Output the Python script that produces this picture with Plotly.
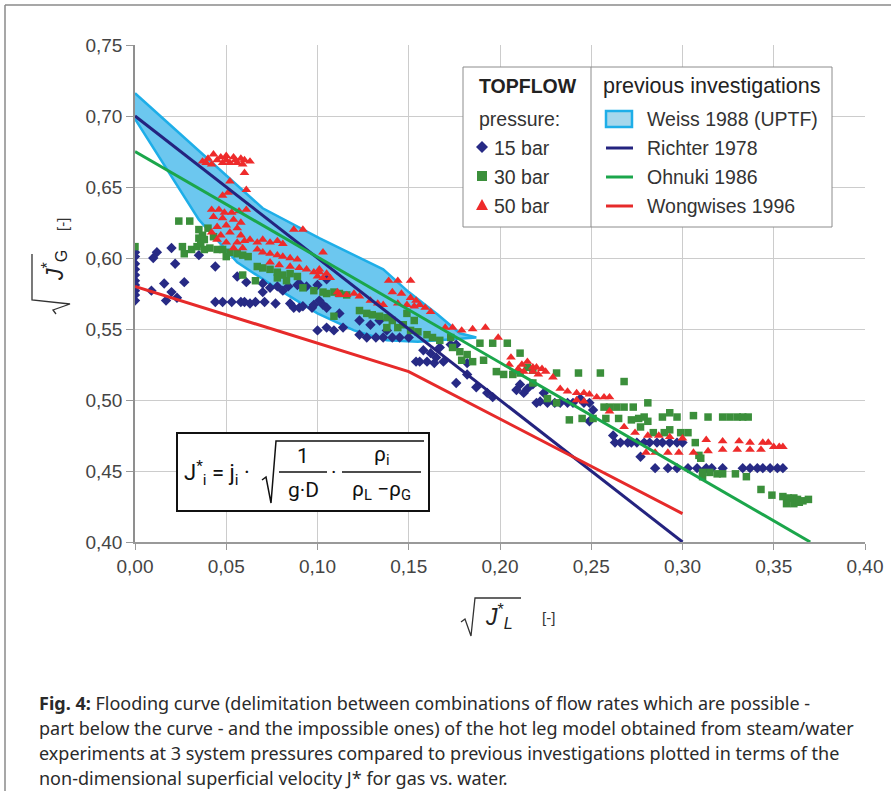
import plotly.graph_objects as go

# ---------------- data ----------------
# TOPFLOW 15 bar (diamonds)
p15_x = [0, 0, 0, 0, 0, 0, 0, 0, 0, 0,
         0.010, 0.012, 0.020, 0.022, 0.035, 0.044, 0.016, 0.027, 0.020, 0.017, 0.023, 0.009,
         0.044, 0.048, 0.053, 0.058, 0.060, 0.063, 0.066, 0.071, 0.077, 0.085, 0.087,
         0.056, 0.061, 0.070, 0.070, 0.074, 0.078, 0.081, 0.084, 0.089,
         0.090, 0.097, 0.092, 0.098, 0.103, 0.094, 0.100, 0.105, 0.090,
         0.100, 0.105, 0.109, 0.114,
         0.123, 0.127, 0.132, 0.136, 0.141, 0.145, 0.150,
         0.101, 0.105, 0.112, 0.123, 0.129, 0.134, 0.138,
         0.154, 0.156, 0.160, 0.164, 0.162, 0.165, 0.169, 0.158, 0.167, 0.173, 0.176,
         0.176, 0.182, 0.182, 0.187, 0.193, 0.196,
         0.209, 0.211, 0.215, 0.213, 0.218, 0.224, 0.222,
         0.220, 0.226, 0.230, 0.233, 0.237, 0.240, 0.246, 0.249,
         0.244, 0.251, 0.249, 0.262,
         0.263, 0.266, 0.270, 0.272, 0.275, 0.279, 0.282, 0.286, 0.289, 0.293, 0.297, 0.300,
         0.277,
         0.285, 0.292, 0.297, 0.303, 0.308, 0.313, 0.316, 0.322, 0.333, 0.337, 0.341, 0.344, 0.348, 0.352, 0.355]
p15_y = [0.604, 0.601, 0.596, 0.592, 0.588, 0.584, 0.581, 0.577, 0.574, 0.570,
         0.600, 0.604, 0.607, 0.596, 0.602, 0.594, 0.582, 0.583, 0.576, 0.570, 0.572, 0.577,
         0.569, 0.569, 0.569, 0.569, 0.569, 0.568, 0.569, 0.569, 0.568, 0.568, 0.565,
         0.587, 0.583, 0.582, 0.576, 0.579, 0.580, 0.577, 0.580, 0.581,
         0.565, 0.565, 0.566, 0.567, 0.567, 0.580, 0.581, 0.585, 0.582,
         0.549, 0.551, 0.549, 0.551,
         0.546, 0.544, 0.544, 0.544, 0.544, 0.544, 0.544,
         0.570, 0.565, 0.561, 0.556, 0.553, 0.556, 0.549,
         0.527, 0.527, 0.527, 0.526, 0.533, 0.530, 0.527, 0.535, 0.537, 0.539, 0.539,
         0.512, 0.518, 0.526, 0.509, 0.505, 0.502,
         0.507, 0.511, 0.508, 0.505, 0.511, 0.505, 0.499,
         0.498, 0.498, 0.498, 0.498, 0.498, 0.498, 0.498, 0.498,
         0.501, 0.493, 0.485, 0.475,
         0.470, 0.470, 0.470, 0.470, 0.470, 0.470, 0.470, 0.470, 0.470, 0.470, 0.470, 0.470,
         0.460,
         0.452, 0.452, 0.452, 0.452, 0.452, 0.452, 0.452, 0.452, 0.452, 0.452, 0.452, 0.452, 0.452, 0.452, 0.452]

# TOPFLOW 30 bar (squares)
p30_x = [0, 0.024, 0.030,
         0.035, 0.037, 0.040, 0.043, 0.035, 0.038,
         0.026, 0.027, 0.031, 0.034, 0.036, 0.038, 0.041, 0.045, 0.048, 0.052, 0.056, 0.059, 0.050, 0.062,
         0.059, 0.066,
         0.067, 0.070, 0.074, 0.078, 0.081, 0.085, 0.078, 0.083, 0.089, 0.092, 0.098, 0.103,
         0.105, 0.109, 0.112, 0.116,
         0.109,
         0.123, 0.127, 0.130, 0.134, 0.138, 0.141,
         0.138, 0.144, 0.147, 0.151, 0.155,
         0.149, 0.153,
         0.160, 0.163, 0.167, 0.173, 0.174, 0.178, 0.182, 0.179, 0.185, 0.191, 0.189, 0.196, 0.204, 0.211,
         0.198, 0.202, 0.207, 0.211, 0.215, 0.218,
         0.231, 0.243, 0.255, 0.268, 0.281,
         0.218, 0.226, 0.231, 0.257, 0.260, 0.264, 0.268, 0.273,
         0.238, 0.245, 0.251, 0.258, 0.265, 0.272, 0.276, 0.279, 0.281, 0.277,
         0.289, 0.293, 0.297, 0.306, 0.314, 0.322, 0.326, 0.330, 0.333, 0.336,
         0.284, 0.290, 0.293, 0.299, 0.303,
         0.307, 0.309, 0.310,
         0.311, 0.315, 0.311, 0.319, 0.322, 0.329, 0.335,
         0.343, 0.349, 0.355, 0.358, 0.361, 0.357, 0.361, 0.363, 0.366, 0.369, 0.364]
p30_y = [0.608, 0.626, 0.626,
         0.620, 0.616, 0.621, 0.615, 0.614, 0.613,
         0.608, 0.603, 0.606, 0.608, 0.610, 0.606, 0.607, 0.606, 0.606, 0.604, 0.603, 0.602, 0.601, 0.601,
         0.588, 0.584,
         0.594, 0.593, 0.592, 0.590, 0.588, 0.589, 0.586, 0.584, 0.587, 0.579, 0.577, 0.576,
         0.575, 0.576, 0.575, 0.574,
         0.559,
         0.563, 0.561, 0.560, 0.559, 0.558, 0.556,
         0.551, 0.551, 0.553, 0.549, 0.548,
         0.561, 0.556,
         0.546, 0.544, 0.542, 0.544, 0.537, 0.534, 0.532, 0.528, 0.527, 0.528, 0.540, 0.540, 0.540, 0.533,
         0.520, 0.518, 0.518, 0.519, 0.523, 0.521,
         0.519, 0.519, 0.519, 0.513, 0.498,
         0.512, 0.501, 0.498, 0.495, 0.495, 0.495, 0.495, 0.495,
         0.486, 0.487, 0.487, 0.487, 0.487, 0.486, 0.487, 0.488, 0.485, 0.481,
         0.488, 0.491, 0.488, 0.489, 0.488, 0.488, 0.488, 0.488, 0.488, 0.488,
         0.477, 0.477, 0.479, 0.477, 0.477,
         0.470, 0.461, 0.459,
         0.449, 0.449, 0.446, 0.448, 0.448, 0.448, 0.446,
         0.437, 0.433, 0.432, 0.431, 0.431, 0.427, 0.427, 0.430, 0.429, 0.430, 0.428]

# TOPFLOW 50 bar (triangles)
p50_x = [0.037, 0.040, 0.043, 0.047, 0.050, 0.054, 0.058, 0.060, 0.042, 0.048, 0.052, 0.056, 0.059, 0.045, 0.050, 0.055, 0.063, 0.039,
         0.060, 0.052, 0.061, 0.051, 0.048, 0.061,
         0.042, 0.046, 0.049, 0.053, 0.057, 0.043, 0.048, 0.054, 0.058, 0.045, 0.050, 0.056, 0.042, 0.047, 0.052, 0.058, 0.045, 0.050, 0.056, 0.060, 0.054, 0.059,
         0.063, 0.067, 0.070, 0.074, 0.078, 0.081, 0.067, 0.070, 0.074, 0.078, 0.081, 0.085, 0.089, 0.074, 0.079, 0.085, 0.090, 0.094, 0.098, 0.101, 0.105, 0.100, 0.103,
         0.087, 0.092, 0.103,
         0.107, 0.111, 0.112, 0.116, 0.120, 0.123, 0.129, 0.133, 0.136, 0.101,
         0.139, 0.144, 0.151,
         0.141, 0.146, 0.151, 0.154, 0.156, 0.159, 0.162, 0.153, 0.149, 0.144,
         0.170, 0.174, 0.179, 0.185, 0.192,
         0.199, 0.206, 0.212, 0.205, 0.210, 0.215, 0.213,
         0.218, 0.220, 0.223, 0.225, 0.218, 0.221, 0.229,
         0.233, 0.237, 0.242, 0.246, 0.249, 0.253, 0.257, 0.260, 0.242, 0.246, 0.260,
         0.268, 0.274, 0.281, 0.287, 0.293, 0.300,
         0.280, 0.285, 0.292, 0.298, 0.306, 0.314, 0.322, 0.330, 0.337, 0.343,
         0.313, 0.322, 0.331, 0.337, 0.344, 0.347, 0.350, 0.353, 0.355]
p50_y = [0.668, 0.670, 0.673, 0.671, 0.672, 0.671, 0.670, 0.669, 0.666, 0.667, 0.667, 0.667, 0.666, 0.669, 0.669, 0.669, 0.668, 0.667,
         0.660, 0.654, 0.648, 0.646, 0.644, 0.634,
         0.634, 0.634, 0.632, 0.632, 0.633, 0.629, 0.628, 0.627, 0.625, 0.622, 0.623, 0.621, 0.618, 0.616, 0.618, 0.616, 0.613, 0.611, 0.611, 0.612, 0.607, 0.607,
         0.613, 0.611, 0.613, 0.611, 0.612, 0.610, 0.606, 0.604, 0.603, 0.602, 0.601, 0.600, 0.599, 0.597, 0.595, 0.594, 0.593, 0.592, 0.590, 0.590, 0.589, 0.587, 0.586,
         0.620, 0.620, 0.604,
         0.586, 0.576, 0.574, 0.574, 0.575, 0.573, 0.570, 0.568, 0.567, 0.592,
         0.584, 0.584, 0.584,
         0.576, 0.575, 0.572, 0.570, 0.567, 0.565, 0.562, 0.566, 0.567, 0.568,
         0.551, 0.551, 0.549, 0.550, 0.551,
         0.544, 0.530, 0.525, 0.525, 0.522, 0.527, 0.520,
         0.523, 0.523, 0.522, 0.520, 0.520, 0.518, 0.516,
         0.508, 0.506, 0.505, 0.505, 0.504, 0.502, 0.502, 0.502, 0.500, 0.499, 0.492,
         0.481, 0.477, 0.475, 0.475, 0.474, 0.473,
         0.463, 0.463, 0.463, 0.463, 0.463, 0.464, 0.465, 0.465, 0.465, 0.465,
         0.472, 0.471, 0.471, 0.470, 0.470, 0.470, 0.467, 0.467, 0.467]

# previous investigations
weiss_upper_x = [0.0, 0.030, 0.070, 0.101, 0.136, 0.150, 0.166, 0.178, 0.187]
weiss_upper_y = [0.716, 0.681, 0.635, 0.614, 0.592, 0.576, 0.560, 0.547, 0.544]
weiss_lower_x = [0.0, 0.035, 0.056, 0.076, 0.100, 0.120, 0.138, 0.155, 0.187]
weiss_lower_y = [0.698, 0.627, 0.597, 0.580, 0.561, 0.549, 0.542, 0.541, 0.544]
richter_x = [0.0, 0.30]
richter_y = [0.70, 0.40]
ohnuki_x = [0.0, 0.37]
ohnuki_y = [0.675, 0.40]
wongwises_x = [0.0, 0.15, 0.30]
wongwises_y = [0.58, 0.52, 0.42]

x_ticks = [0.00, 0.05, 0.10, 0.15, 0.20, 0.25, 0.30, 0.35, 0.40]
y_ticks = [0.40, 0.45, 0.50, 0.55, 0.60, 0.65, 0.70, 0.75]

caption_lines = [
    "<b>Fig. 4:</b> Flooding curve (delimitation between combinations of flow rates which are possible -",
    "part below the curve - and the impossible ones) of the hot leg model obtained from steam/water",
    "experiments at 3 system pressures compared to previous investigations plotted in terms of the",
    "non-dimensional superficial velocity J* for gas vs. water.",
]

# ---------------- styling ----------------
C_BLUE = "#272a85"
C_GREEN = "#3b8f3b"
C_RED = "#ee2b2b"
C_RICHTER = "#24237f"
C_OHNUKI = "#1ba64b"
C_WONG = "#e62a2a"
C_BAND_LINE = "#1eaee8"
C_BAND_FILL = "#6cc7ef"
FONT = "Liberation Sans, Arial, sans-serif"
TXT = "#333333"

L, T, W, H = 135, 45, 730, 497
FIG_W, FIG_H = 891, 791


def X(px):
    return (px - L) / W


def Y(py):
    return (T + H - py) / H


def path(points, close=False):
    s = "M " + " L ".join(f"{X(a):.5f},{Y(b):.5f}" for a, b in points)
    return s + (" Z" if close else "")


fig = go.Figure()

# Weiss band
fig.add_trace(go.Scatter(
    x=weiss_upper_x + weiss_lower_x[::-1],
    y=weiss_upper_y + weiss_lower_y[::-1],
    mode="lines", fill="toself", fillcolor=C_BAND_FILL,
    line=dict(color=C_BAND_LINE, width=2.5), hoverinfo="skip", showlegend=False))

# data points
fig.add_trace(go.Scatter(x=p15_x, y=p15_y, mode="markers",
                         marker=dict(symbol="diamond", size=8, color=C_BLUE), showlegend=False))
fig.add_trace(go.Scatter(x=p30_x, y=p30_y, mode="markers",
                         marker=dict(symbol="square", size=7.5, color=C_GREEN), showlegend=False))
fig.add_trace(go.Scatter(x=p50_x, y=p50_y, mode="markers",
                         marker=dict(symbol="triangle-up", size=8.5, color=C_RED), showlegend=False))

# correlation lines
fig.add_trace(go.Scatter(x=richter_x, y=richter_y, mode="lines",
                         line=dict(color=C_RICHTER, width=3), showlegend=False))
fig.add_trace(go.Scatter(x=ohnuki_x, y=ohnuki_y, mode="lines",
                         line=dict(color=C_OHNUKI, width=3), showlegend=False))
fig.add_trace(go.Scatter(x=wongwises_x, y=wongwises_y, mode="lines",
                         line=dict(color=C_WONG, width=3), showlegend=False))

shapes = []
ann = []

# outer frame of the figure panel
shapes.append(dict(type="line", xref="paper", yref="paper", x0=X(5), y0=Y(5), x1=X(891), y1=Y(5),
                   line=dict(color="#8a8a8a", width=1.5)))
shapes.append(dict(type="line", xref="paper", yref="paper", x0=X(5), y0=Y(5), x1=X(5), y1=Y(791),
                   line=dict(color="#8a8a8a", width=1.5)))

# ---- legend box ----
shapes.append(dict(type="rect", xref="paper", yref="paper", x0=X(463), x1=X(832), y0=Y(227), y1=Y(67),
                   line=dict(color="#8c8c8c", width=1), fillcolor="white", layer="above"))
shapes.append(dict(type="line", xref="paper", yref="paper", x0=X(591), x1=X(591), y0=Y(227), y1=Y(67),
                   line=dict(color="#8c8c8c", width=1), layer="above"))
# legend symbols
shapes.append(dict(type="path", xref="paper", yref="paper", layer="above",
                   path=path([(482, 141), (488, 147), (482, 153), (476, 147)], True),
                   fillcolor=C_BLUE, line=dict(width=0)))
shapes.append(dict(type="rect", xref="paper", yref="paper", layer="above",
                   x0=X(477), x1=X(487), y0=Y(181), y1=Y(171), fillcolor=C_GREEN, line=dict(width=0)))
shapes.append(dict(type="path", xref="paper", yref="paper", layer="above",
                   path=path([(476, 210), (488, 210), (482, 199)], True),
                   fillcolor=C_RED, line=dict(width=0)))
shapes.append(dict(type="rect", xref="paper", yref="paper", layer="above",
                   x0=X(606), x1=X(632), y0=Y(127), y1=Y(111), fillcolor="#a6d7ec",
                   line=dict(color=C_BAND_LINE, width=2.5)))
for yy, col in [(148, C_RICHTER), (177, C_OHNUKI), (206, C_WONG)]:
    shapes.append(dict(type="line", xref="paper", yref="paper", layer="above",
                       x0=X(606), x1=X(633), y0=Y(yy), y1=Y(yy), line=dict(color=col, width=3)))


def text(px, py, s, size=18, xanchor="left", color=TXT, angle=0, family=FONT):
    ann.append(dict(x=X(px), y=Y(py), xref="paper", yref="paper", text=s, showarrow=False,
                    xanchor=xanchor, yanchor="middle", textangle=angle,
                    font=dict(family=family, size=size, color=color)))


LG = 19.5
text(477, 86, "<b>TOPFLOW</b>", LG, color="#222")
text(601, 86, "previous investigations", 21.5, color="#222")
text(477, 119, "pressure:", LG)
text(492, 148, "15 bar", LG)
text(492, 177, "30 bar", LG)
text(492, 206, "50 bar", LG)
text(645, 119, "Weiss 1988 (UPTF)", LG)
text(645, 148, "Richter 1978", LG)
text(645, 177, "Ohnuki 1986", LG)
text(645, 206, "Wongwises 1996", LG)

# ---- formula box ----
shapes.append(dict(type="rect", xref="paper", yref="paper", x0=X(177), x1=X(429), y0=Y(511), y1=Y(433),
                   line=dict(color="#111", width=2), fillcolor="white", layer="above"))
shapes.append(dict(type="path", xref="paper", yref="paper", layer="above",
                   path=path([(262, 480), (266, 477), (271, 503), (276, 441), (424, 441)]),
                   line=dict(color="#111", width=1.5)))
shapes.append(dict(type="line", xref="paper", yref="paper", layer="above",
                   x0=X(279), x1=X(327), y0=Y(472), y1=Y(472), line=dict(color="#111", width=1.5)))
shapes.append(dict(type="line", xref="paper", yref="paper", layer="above",
                   x0=X(342), x1=X(421), y0=Y(472), y1=Y(472), line=dict(color="#111", width=1.5)))
FF = "Roboto, Arial, sans-serif"
text(182, 473, "J<sup>*</sup><sub>i</sub> = j<sub>i</sub> ·", 22, color="#111", family=FF)
text(303, 456, "1", 21, "center", "#111", family=FF)
text(303, 490, "g·D", 21, "center", "#111", family=FF)
text(334, 472, "·", 21, "center", "#111", family=FF)
text(381, 455, "ρ<sub>i</sub>", 21, "center", "#111", family=FF)
text(381, 490, "ρ<sub>L</sub> −ρ<sub>G</sub>", 21, "center", "#111", family=FF)

# ---- axis titles ----
shapes.append(dict(type="path", xref="paper", yref="paper",
                   path=path([(461, 622), (465, 619), (471, 636), (475, 598), (521, 598)]),
                   line=dict(color="#333", width=1.3)))
text(499, 616, "<i>J</i><sup>*</sup><sub><i>L</i></sub>", 23, "center", "#222")
text(548, 617, "[-]", 15, "center", "#333")

shapes.append(dict(type="path", xref="paper", yref="paper",
                   path=path([(56, 314), (53, 310), (70, 304), (32, 300), (32, 254)]),
                   line=dict(color="#333", width=1.3)))
text(54, 266, "<i>J</i><sup>*</sup><sub>G</sub>", 23, "center", "#222", angle=-90)
text(62, 225, "[-]", 15, "center", "#333", angle=-90)

# ---- caption ----
for i, line in enumerate(caption_lines):
    text(37, 703 + i * 25, line, 18, "left", "#2a2a2a", family="Noto Sans, sans-serif")

fig.update_layout(
    width=FIG_W, height=FIG_H,
    margin=dict(l=L, r=FIG_W - L - W, t=T, b=FIG_H - T - H, autoexpand=False),
    paper_bgcolor="white", plot_bgcolor="white",
    separators=",.",
    shapes=shapes, annotations=ann,
    xaxis=dict(range=[0, 0.40], tickvals=x_ticks, tickformat=".2f",
               showgrid=True, gridcolor="#cccccc", gridwidth=1,
               showline=True, linecolor="#999999", linewidth=1.5,
               ticks="outside", ticklen=6, tickcolor="#999999",
               tickfont=dict(family=FONT, size=19, color="#444"), zeroline=False),
    yaxis=dict(range=[0.40, 0.75], tickvals=y_ticks, tickformat=".2f",
               showgrid=True, gridcolor="#cccccc", gridwidth=1,
               showline=True, linecolor="#8f8f8f", linewidth=1.5,
               ticks="outside", ticklen=7, tickcolor="#999999",
               tickfont=dict(family=FONT, size=19, color="#444"), zeroline=False),
)

fig.write_html("out.html")
